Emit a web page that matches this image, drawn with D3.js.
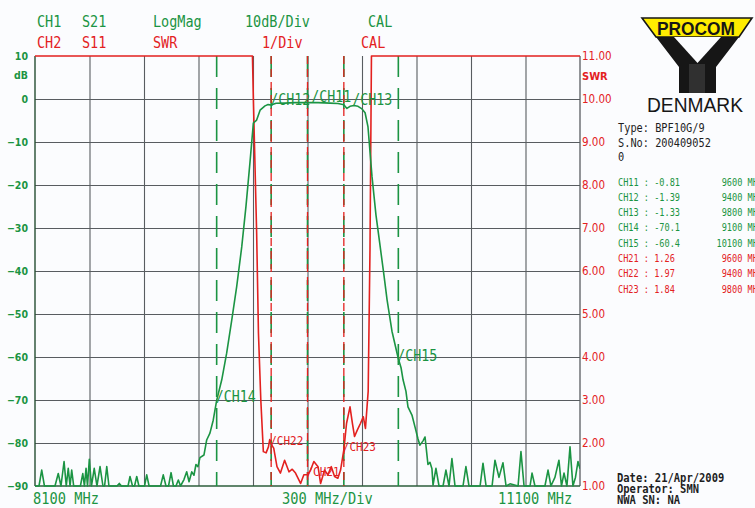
<!DOCTYPE html>
<html>
<head>
<meta charset="utf-8">
<script src="https://cdn.jsdelivr.net/npm/d3@7"></script>
<style>
  body { margin: 0; background: #fbfcfe; }
  svg { display: block; }
</style>
</head>
<body>
<svg id="chart" width="755" height="508"></svg>
<script>
// ---- Measured traces -------------------------------------------------------
// CH1: S21 transmission, log magnitude (dB)
const s21Freq = [8100, 8122, 8137, 8152, 8210, 8228, 8243, 8260, 8272, 8283, 8293, 8302, 8313,
  8350, 8363, 8372, 8381, 8389, 8399, 8411, 8426, 8441, 8458, 8474, 8483, 8495, 8507, 8551,
  8564, 8576, 8612, 8623, 8637, 8648, 8660, 8672, 8703, 8715, 8728, 8791, 8806, 8821, 8835,
  8849, 8862, 8876, 8889, 8901, 8920, 8935, 8948, 8963, 8975, 8986, 8997, 9008, 9030, 9045,
  9063, 9081, 9100, 9128, 9155, 9183, 9210, 9238, 9261, 9283, 9302, 9320, 9339, 9366, 9383,
  9400, 9427, 9476, 9531, 9600, 9658, 9724, 9768, 9800, 9817, 9834, 9856, 9878, 9900, 9917,
  9933, 9955, 9977, 9999, 10021, 10038, 10065, 10100, 10115, 10126, 10142, 10153, 10175,
  10192, 10208, 10219, 10236, 10247, 10258, 10263, 10274, 10285, 10291, 10307, 10324, 10346,
  10362, 10379, 10395, 10412, 10456, 10472, 10489, 10550, 10566, 10583, 10616, 10632, 10654,
  10676, 10693, 10715, 10759, 10775, 10792, 10825, 10836, 10852, 10907, 10924, 10940, 10962,
  10984, 10998, 11012, 11028, 11045, 11061, 11075, 11089, 11100];
const s21Db = [-90, -90, -86.3, -90, -90, -87.1, -90, -84.3, -90, -85.9, -90, -86.3, -90,
  -90, -87.1, -90, -85.9, -90, -83.8, -90, -85.9, -90, -85.5, -90, -90, -85.5, -90, -90,
  -89.4, -90, -90, -87.8, -90, -90, -87.8, -90, -90, -87.4, -90, -90, -87.4, -90, -90,
  -86.9, -90, -90, -88.6, -90, -88.5, -86.7, -89, -86.7, -87.5, -85, -85.5, -83.4, -82.8, -79.3,
  -77.7, -74.7, -70.1, -65.3, -59.1, -51.4, -43.7, -34.4, -25.1, -14.9, -5.6, -4.9, -2.6, -1.6, -1.3,
  -1.39, -1.0, -0.95, -0.85, -0.81, -0.85, -0.95, -1.05, -1.33, -2.2, -1.7, -1.5, -1.7, -2.3, -3.2,
  -6.5, -18, -27, -34, -41, -46.7, -54, -60.4, -62.5, -65.3, -68, -71.6, -73.5,
  -76.3, -79, -80.5, -79.5, -78.6, -83, -85, -84.5, -86, -89.8, -85.9, -90, -90,
  -86.3, -90, -83.6, -90, -90, -85.5, -90, -90, -84.7, -90, -90, -84, -88,
  -84.6, -90, -89.5, -90, -82, -90, -90, -87, -90, -90, -86.3, -90, -88,
  -84, -90, -87, -90, -80.9, -90, -88, -84.3, -86];

// CH2: S11 reflection, SWR (pinned at the 11.00 top line outside the pass band)
const s11Freq = [8100, 9297, 9302, 9320, 9330, 9343, 9357, 9372, 9385, 9392, 9400, 9414, 9432,
  9451, 9474, 9498, 9516, 9534, 9562, 9580, 9600, 9617, 9635, 9658, 9672, 9694, 9712, 9731,
  9749, 9767, 9782, 9800, 9815, 9834, 9847, 9859, 9874, 9892, 9907, 9919, 9934, 9944, 9952, 11100];
const s11Swr = [11, 11, 10, 6.9, 4.56, 3.0, 1.8, 1.77, 1.91, 2.08, 1.97, 1.88, 1.45,
  1.3, 1.6, 1.33, 1.39, 1.3, 1.06, 1.26, 1.26, 1.37, 1.57, 1.45, 1.06, 1.37, 1.26, 1.45,
  1.22, 1.18, 1.37, 1.84, 2.46, 2.84, 2.46, 2.15, 2.3, 2.46, 2.61, 2.34, 3.2, 6.5, 11, 11];

// ---- Markers ---------------------------------------------------------------
const markerNames = ["CH11", "CH12", "CH13", "CH14", "CH15", "CH21", "CH22", "CH23"];
const markerFreq  = [9600, 9400, 9800, 9100, 10100, 9600, 9400, 9800];
const markerValue = [-0.81, -1.39, -1.33, -70.1, -60.4, 1.26, 1.97, 1.84];
const markerTrace = ["S21", "S21", "S21", "S21", "S21", "S11", "S11", "S11"];

// ---- Axes and annotation text ------------------------------------------------
const freqStart = 8100, freqStop = 11100, freqStep = 300;
const dbTicks  = [10, 0, -10, -20, -30, -40, -50, -60, -70, -80, -90];
const swrTicks = [11, 10, 9, 8, 7, 6, 5, 4, 3, 2, 1];
const headerCh1 = ["CH1", "S21", "LogMag", "10dB/Div", "CAL"];
const headerCh2 = ["CH2", "S11", "SWR", "1/Div", "CAL"];
const freqLabels = ["8100 MHz", "300 MHz/Div", "11100 MHz"];
const infoLines = ["Type: BPF10G/9", "S.No: 200409052", "0"];
const footerLines = ["Date: 21/Apr/2009", "Operator: SMN", "NWA SN: NA"];

// ---- Drawing -----------------------------------------------------------------
const GREEN = "#1b9443", RED = "#e3211f", GRID = "#585c60", INK = "#1e1e1e";
const MONO = "'DejaVu Sans Mono', 'Liberation Mono', monospace";
const NARROW = "'Liberation Sans Narrow', 'DejaVu Sans Condensed', 'Liberation Sans', sans-serif";

const plot = { left: 35, right: 580, top: 56, bottom: 486 };
const svg = d3.select("#chart");

const x = d3.scaleLinear().domain([freqStart, freqStop]).range([plot.left, plot.right]);
const yDb = d3.scaleLinear().domain([-90, 10]).range([plot.bottom, plot.top]);
const ySwr = d3.scaleLinear().domain([1, 11]).range([plot.bottom, plot.top]);

// Stretched monospace text, like the plotter's tall narrow characters
function tallText(parent, str, px, py, size, sy, color, anchor) {
  return parent.append("text")
    .attr("transform", `translate(${px},${py}) scale(1,${sy})`)
    .attr("font-family", MONO)
    .attr("font-size", size)
    .attr("fill", color)
    .attr("text-anchor", anchor || "start")
    .text(str);
}

// Grid
const vTicks = d3.range(freqStart + freqStep, freqStop, freqStep);
svg.append("g")
  .attr("transform", `translate(0,${plot.bottom})`)
  .call(d3.axisBottom(x).tickValues(vTicks).tickSize(-(plot.bottom - plot.top)).tickFormat(""))
  .call(g => g.select(".domain").remove())
  .call(g => g.selectAll("line").attr("stroke", GRID).attr("stroke-width", 1.1));

svg.append("g")
  .attr("transform", `translate(${plot.left},0)`)
  .call(d3.axisLeft(yDb).tickValues(dbTicks.slice(1, -1)).tickSize(-(plot.right - plot.left)).tickFormat(""))
  .call(g => g.select(".domain").remove())
  .call(g => g.selectAll("line").attr("stroke", GRID).attr("stroke-width", 1.1));

// Frame
svg.append("line").attr("x1", plot.right).attr("x2", plot.right).attr("y1", plot.top).attr("y2", plot.bottom)
  .attr("stroke", GRID).attr("stroke-width", 1.3);
svg.append("line").attr("x1", plot.left).attr("x2", plot.right).attr("y1", plot.bottom).attr("y2", plot.bottom)
  .attr("stroke", "#2d5e3b").attr("stroke-width", 1.3);
svg.append("line").attr("x1", plot.left).attr("x2", plot.left).attr("y1", plot.top).attr("y2", plot.bottom)
  .attr("stroke", "#244d31").attr("stroke-width", 1.4);

// Left dB axis labels
const leftAxis = svg.append("g")
  .attr("transform", `translate(${plot.left - 7},0)`)
  .call(d3.axisLeft(yDb).tickValues(dbTicks).tickSize(0).tickPadding(0))
  .call(g => g.select(".domain").remove());
leftAxis.selectAll("text")
  .attr("fill", GREEN).attr("font-family", NARROW).attr("font-weight", "bold").attr("font-size", 10.5);
svg.append("text").attr("x", plot.left - 7).attr("y", 75).attr("dy", "0.35em")
  .attr("text-anchor", "end").attr("fill", GREEN).attr("font-family", NARROW)
  .attr("font-weight", "bold").attr("font-size", 10.5).text("dB");

// Right SWR axis labels
const rightAxis = svg.append("g")
  .attr("transform", `translate(${plot.right + 2},0)`)
  .call(d3.axisRight(ySwr).tickValues(swrTicks).tickSize(0).tickPadding(0).tickFormat(d3.format(".2f")))
  .call(g => g.select(".domain").remove());
rightAxis.selectAll("text")
  .attr("fill", RED).attr("font-family", NARROW).attr("font-size", 11.5);
svg.append("text").attr("x", plot.right + 2).attr("y", 76).attr("dy", "0.35em")
  .attr("fill", RED).attr("font-family", NARROW).attr("font-weight", "bold").attr("font-size", 11).text("SWR");

// Marker lines (green for CH1, red dashes for CH2)
const markers = markerNames.map((name, i) => ({
  name, freq: markerFreq[i], value: markerValue[i], trace: markerTrace[i]
}));
svg.append("g").selectAll("line")
  .data(markers.filter(m => m.trace === "S21"))
  .join("line")
  .attr("x1", d => x(d.freq)).attr("x2", d => x(d.freq))
  .attr("y1", plot.top).attr("y2", plot.bottom)
  .attr("stroke", GREEN).attr("stroke-width", 1.6).attr("stroke-dasharray", "21,11");
svg.append("g").selectAll("line")
  .data(markers.filter(m => m.trace === "S11"))
  .join("line")
  .attr("x1", d => x(d.freq)).attr("x2", d => x(d.freq))
  .attr("y1", plot.top).attr("y2", plot.bottom)
  .attr("stroke", RED).attr("stroke-width", 1.3).attr("stroke-dasharray", "8,5");

// Traces
svg.append("clipPath").attr("id", "plotClip").append("rect")
  .attr("x", plot.left).attr("y", plot.top - 1).attr("width", plot.right - plot.left).attr("height", plot.bottom - plot.top + 2);

const s21Line = d3.line().x(d => x(d[0])).y(d => yDb(d[1]));
const s11Line = d3.line().x(d => x(d[0])).y(d => ySwr(d[1]));

svg.append("path")
  .datum(s11Freq.map((f, i) => [f, s11Swr[i]]))
  .attr("clip-path", "url(#plotClip)")
  .attr("d", s11Line).attr("fill", "none").attr("stroke", RED).attr("stroke-width", 1.6)
  .attr("stroke-linejoin", "round");

svg.append("path")
  .datum(s21Freq.map((f, i) => [f, s21Db[i]]))
  .attr("clip-path", "url(#plotClip)")
  .attr("d", s21Line).attr("fill", "none").attr("stroke", GREEN).attr("stroke-width", 1.6)
  .attr("stroke-linejoin", "round");

// Marker labels: "/" tick at the marker point followed by its name, packed left to right
function placeLabels(list, yScale, size, sy, color, dyBase) {
  let lastEnd = -Infinity;
  list.sort((a, b) => a.freq - b.freq).forEach(m => {
    const px = x(m.freq), py = yScale(m.value);
    const startX = Math.max(px - 1, lastEnd);
    const t = tallText(svg, "/" + m.name, startX, py + dyBase, size, sy, color);
    lastEnd = startX + t.node().getComputedTextLength() + 1;
  });
}
placeLabels(markers.filter(m => m.trace === "S21" && m.value > -10), yDb, 13.3, 1.13, GREEN, 0);
markers.filter(m => m.trace === "S21" && m.value <= -10).forEach(m => {
  tallText(svg, "/" + m.name, x(m.freq) - 1, yDb(m.value) + 2, 13.3, 1.13, GREEN);
});
placeLabels(markers.filter(m => m.trace === "S11"), ySwr, 11, 1.08, RED, 1);

// Header rows
const headerX1 = [37, 82, 153, 245, 368];
const headerX2 = [37, 82, 153, 262, 361];
headerCh1.forEach((s, i) => tallText(svg, s, headerX1[i], 27, 13.5, 1.22, GREEN));
headerCh2.forEach((s, i) => tallText(svg, s, headerX2[i], 47.5, 13.5, 1.22, RED));

// Frequency labels under the grid
const freqLabelX = [33, 282, 498];
freqLabels.forEach((s, i) => tallText(svg, s, freqLabelX[i], 504, 13.7, 1.15, GREEN));

// Logo
const logo = svg.append("g");
logo.append("polygon")
  .attr("points", "642,18 752,18 739,37 656,37")
  .attr("fill", "#ffec00").attr("stroke", "#161616").attr("stroke-width", 1.6);
logo.append("polygon")
  .attr("points", "656,37 739,37 716,67 716,93 679,93 679,67")
  .attr("fill", "#161616");
logo.append("polygon")
  .attr("points", "674,37 721,37 697.5,63")
  .attr("fill", "#fbfcfe");
logo.append("rect").attr("x", 689).attr("y", 64).attr("width", 16).attr("height", 29).attr("fill", "#303030");
logo.append("text").attr("x", 657).attr("y", 35)
  .attr("font-family", "'Liberation Sans', Arial, sans-serif").attr("font-weight", "bold")
  .attr("font-size", 18.5).attr("textLength", 78).attr("lengthAdjust", "spacingAndGlyphs")
  .attr("fill", "#161616").text("PROCOM");
logo.append("text").attr("x", 647).attr("y", 112)
  .attr("font-family", "'Liberation Sans', Arial, sans-serif")
  .attr("font-size", 20).attr("textLength", 96).attr("lengthAdjust", "spacingAndGlyphs")
  .attr("fill", "#161616").text("DENMARK");

// Device info
infoLines.forEach((s, i) => tallText(svg, s, 618, 132 + i * 14.5, 10.3, 1.2, INK));

// Marker readout table
markers.forEach((m, i) => {
  const color = m.trace === "S21" ? GREEN : RED;
  const by = 185.5 + i * 15.3;
  tallText(svg, `${m.name} : ${m.value}`, 618, by, 8.6, 1.28, color);
  tallText(svg, `${m.freq} MHz`, 763, by, 8.6, 1.28, color, "end");
});

// Footer
footerLines.forEach((s, i) => tallText(svg, s, 617, 481.5 + i * 11.2, 10.5, 1.15, INK).attr("font-weight", "bold"));
</script>
</body>
</html>
